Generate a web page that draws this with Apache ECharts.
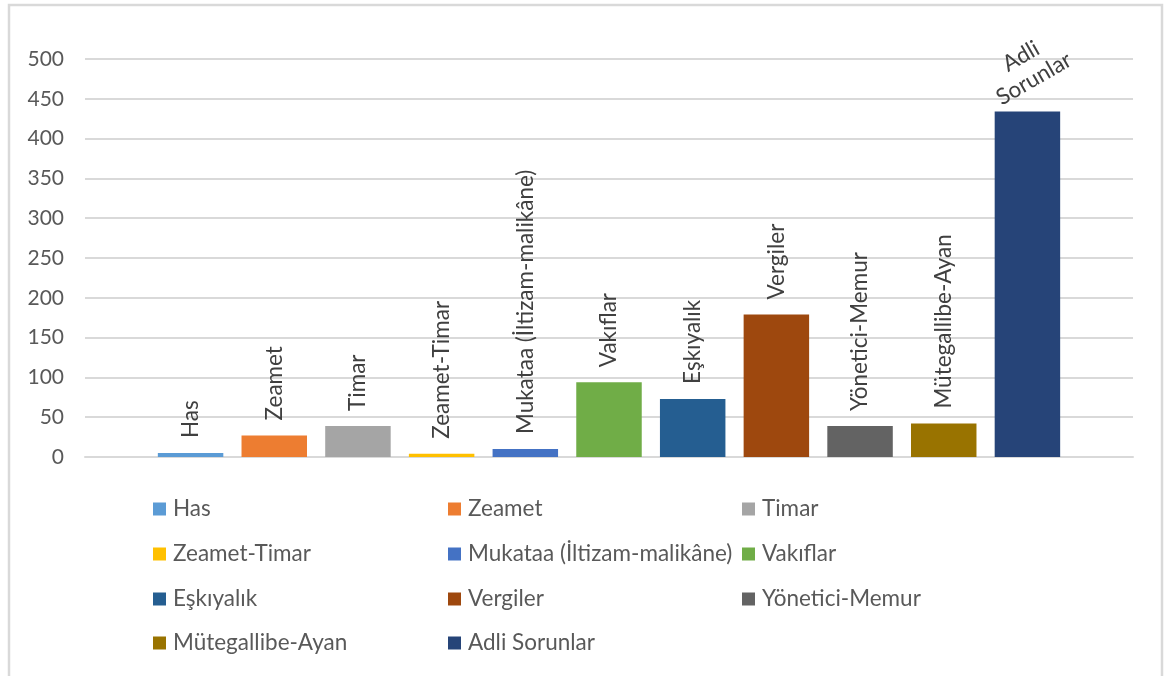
<!DOCTYPE html>
<html>
<head>
<meta charset="utf-8">
<script src="https://cdn.jsdelivr.net/npm/echarts@6/dist/echarts.min.js"></script>
<style>
html,body{margin:0;padding:0;background:#fff;}
#chart{width:1168px;height:676px;}
</style>
</head>
<body>
<div id="chart"></div>
<script>
const seriesNames = ['Has','Zeamet','Timar','Zeamet-Timar','Mukataa (İltizam-malikâne)','Vakıflar','Eşkıyalık','Vergiler','Yönetici-Memur','Mütegallibe-Ayan','Adli Sorunlar'];
const values = [5, 27, 39, 4, 10, 94, 73, 179, 39, 42, 434];
const colors = ['#5B9BD5','#ED7D31','#A5A5A5','#FFC000','#4472C4','#70AD47','#255E91','#9E480E','#636363','#997300','#264478'];
const categories = [''];
const yMin = 0, yMax = 500, yStep = 50;

const FONT = 'Lato';
const chart = echarts.init(document.getElementById('chart'));

const legendCols = [153, 448, 742];
const legendRows = [509, 554, 599, 643];

const series = seriesNames.map((name, i) => {
  const isLast = i === seriesNames.length - 1;
  return {
    name: name,
    type: 'bar',
    data: [values[i]],
    barGap: '27.8%',
    barCategoryGap: '13.9%',
    itemStyle: { color: colors[i] },
    label: isLast ? {
      show: true,
      position: ['50%', -44],
      rotate: 30,
      align: 'center',
      verticalAlign: 'middle',
      lineHeight: 26,
      fontFamily: FONT,
      fontSize: 22.5,
      color: '#404040',
      formatter: p => p.seriesName.replace(' ', '\n')
    } : {
      show: true,
      position: 'top',
      distance: 15,
      rotate: 90,
      align: 'left',
      verticalAlign: 'middle',
      fontFamily: FONT,
      fontSize: 22.5,
      color: '#404040',
      formatter: '{a}'
    }
  };
});

const legends = seriesNames.map((name, i) => ({
  data: [name],
  left: legendCols[i % 3],
  top: legendRows[Math.floor(i / 3)] - 12,
  padding: 0,
  itemWidth: 13,
  itemHeight: 13,
  icon: 'rect',
  selectedMode: false,
  textStyle: { fontFamily: FONT, fontSize: 22.5, color: '#595959', lineHeight: 24, padding: [0, 0, 0, 2] }
}));

chart.setOption({
  animation: false,
  color: colors,
  textStyle: { fontFamily: FONT },
  graphic: [{
    type: 'rect',
    z: -10,
    shape: { x: 9, y: 5, width: 1153, height: 700 },
    style: { fill: 'none', stroke: '#d9d9d9', lineWidth: 2.5 }
  }],
  grid: { left: 85, right: 35, top: 59, bottom: 219, containLabel: false },
  legend: legends,
  xAxis: {
    type: 'category',
    data: categories,
    axisLine: { show: true, lineStyle: { color: '#d9d9d9', width: 2 } },
    axisTick: { show: false },
    axisLabel: { show: false }
  },
  yAxis: {
    type: 'value',
    min: yMin, max: yMax, interval: yStep,
    axisLine: { show: false },
    axisTick: { show: false },
    axisLabel: { fontFamily: FONT, fontSize: 21, color: '#595959', margin: 21 },
    splitLine: { lineStyle: { color: '#d9d9d9', width: 2 } }
  },
  series: series
});
</script>
</body>
</html>
